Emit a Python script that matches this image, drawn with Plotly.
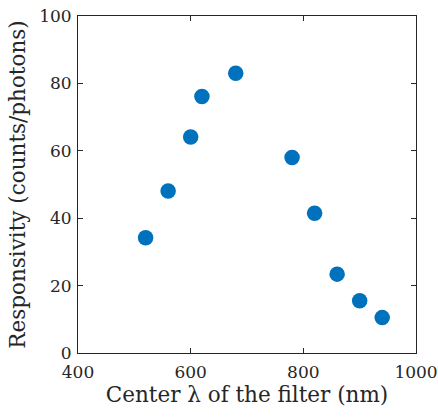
import plotly.graph_objects as go

wavelength = [520, 560, 600, 620, 680, 780, 820, 860, 900, 940]
responsivity = [34.2, 48.1, 64.1, 76.1, 83.0, 58.0, 41.5, 23.4, 15.5, 10.5]

x_ticks = [400, 600, 800, 1000]
y_ticks = [0, 20, 40, 60, 80, 100]

font_family = "DejaVu Serif, Liberation Serif, serif"
col = "#262626"

fig = go.Figure()
fig.add_trace(go.Scatter(
    x=wavelength, y=responsivity, mode="markers",
    marker=dict(color="#0072BD", size=15.5, line=dict(width=0)),
    showlegend=False,
))

axis_common = dict(
    showgrid=False, zeroline=False, showline=True, linecolor=col,
    linewidth=1, mirror="ticks", ticks="inside", ticklen=5,
    tickcolor=col, tickwidth=1, automargin=False,
    tickfont=dict(family=font_family, size=17, color=col),
)

fig.update_layout(
    width=438, height=417,
    margin=dict(l=78, r=22, t=16, b=64),
    paper_bgcolor="white", plot_bgcolor="white",
    xaxis=dict(range=[400, 1000], tickvals=x_ticks, ticklabelstandoff=4,
               title=dict(text="Center λ of the filter (nm)",
                          font=dict(family=font_family, size=21.5, color=col),
                          standoff=5),
               **axis_common),
    yaxis=dict(range=[0, 100], tickvals=y_ticks, ticklabelstandoff=2,
               title=dict(text="Responsivity (counts/photons)",
                          font=dict(family=font_family, size=21.5, color=col),
                          standoff=7),
               **axis_common),
)

fig.write_html("out.html")
